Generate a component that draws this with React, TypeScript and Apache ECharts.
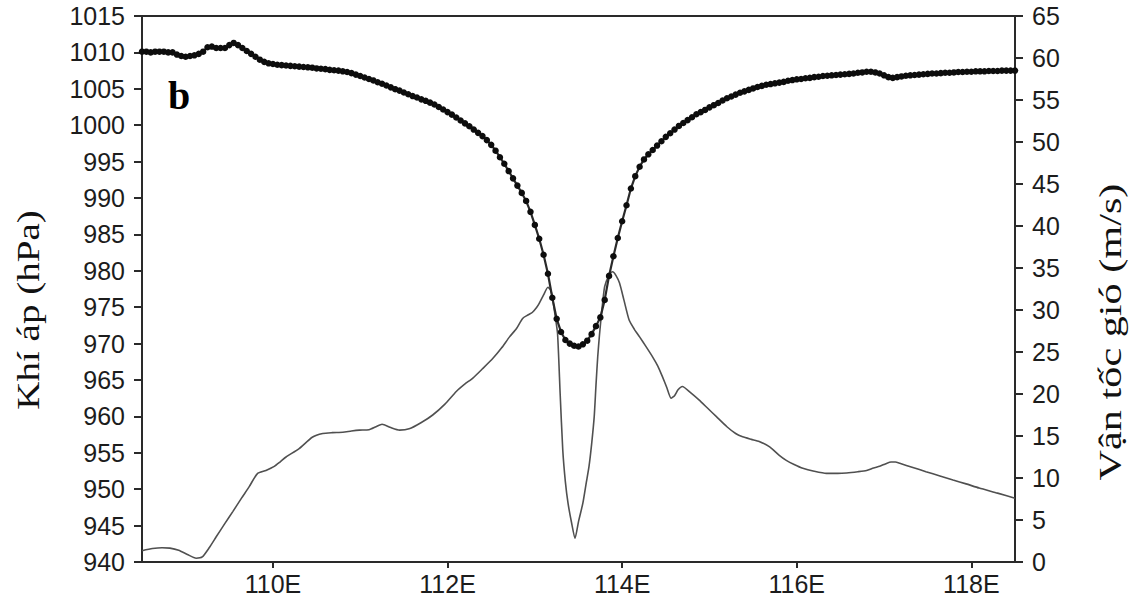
import React, { useEffect, useRef } from "react";
import * as echarts from "echarts";

// Longitude sampling of the sea-level pressure trace (degrees east)
const PRESSURE_LON_START = 108.5;
const PRESSURE_LON_STEP = 0.05;

// Sea-level pressure along the track (hPa), one value per sample
const pressure = [
  1010.1, 1010.1, 1010.0, 1010.1, 1010.1, 1010.1, 1010.0, 1010.0, 1009.7, 1009.5,
  1009.4, 1009.5, 1009.6, 1009.8, 1010.1, 1010.7, 1010.8, 1010.6, 1010.6, 1010.6,
  1011.0, 1011.3, 1011.0, 1010.6, 1010.2, 1009.8, 1009.4, 1009.0, 1008.7, 1008.5,
  1008.4, 1008.3, 1008.25, 1008.2, 1008.15, 1008.1, 1008.05, 1008.0, 1007.95, 1007.9,
  1007.8, 1007.75, 1007.7, 1007.6, 1007.55, 1007.5, 1007.4, 1007.3, 1007.15, 1006.95,
  1006.75, 1006.55, 1006.35, 1006.15, 1005.9, 1005.7, 1005.45, 1005.2, 1004.95, 1004.75,
  1004.5, 1004.25, 1004.0, 1003.8, 1003.55, 1003.35, 1003.1, 1002.85, 1002.5, 1002.15,
  1001.8, 1001.45, 1001.05, 1000.65, 1000.25, 999.85, 999.4, 998.95, 998.5, 997.95,
  997.3, 996.5, 995.6, 994.7, 993.7, 992.7, 991.7, 990.7, 989.6, 988.1,
  986.3, 984.4, 982.2, 979.6, 976.3, 973.4, 971.6, 970.5, 970.0, 969.7,
  969.6, 969.9, 970.4, 971.3, 972.4, 973.6, 976.0, 979.3, 982.0, 984.5,
  986.8, 989.0, 991.3, 993.0, 994.3, 995.3, 996.0, 996.6, 997.2, 997.8,
  998.4, 998.9, 999.4, 999.9, 1000.3, 1000.7, 1001.1, 1001.5, 1001.8, 1002.1,
  1002.45, 1002.75, 1003.05, 1003.4, 1003.7, 1003.95, 1004.2, 1004.45, 1004.65, 1004.85,
  1005.05, 1005.25, 1005.4, 1005.55, 1005.65, 1005.75, 1005.85, 1005.95, 1006.1, 1006.2,
  1006.3, 1006.35, 1006.45, 1006.5, 1006.6, 1006.65, 1006.75, 1006.8, 1006.85, 1006.9,
  1006.95, 1007.0, 1007.05, 1007.1, 1007.2, 1007.25, 1007.35, 1007.35, 1007.25, 1007.1,
  1006.85, 1006.6, 1006.5, 1006.6, 1006.7, 1006.8, 1006.85, 1006.9, 1006.95, 1007.0,
  1007.05, 1007.1, 1007.1, 1007.15, 1007.2, 1007.2, 1007.25, 1007.3, 1007.3, 1007.35,
  1007.35, 1007.4, 1007.4, 1007.4, 1007.45, 1007.45, 1007.45, 1007.5, 1007.5, 1007.5,
  1007.5,
];

// Wind speed trace (m/s): longitudes and values
const windLon = [
  108.5, 108.62, 108.73, 108.82, 108.92, 109.02, 109.12, 109.19, 109.27, 109.35,
  109.45, 109.54, 109.64, 109.73, 109.82, 109.92, 110.01, 110.08, 110.15, 110.3,
  110.45, 110.57, 110.68, 110.8, 110.9, 110.99, 111.1, 111.18, 111.25, 111.35,
  111.45, 111.56, 111.7, 111.83, 111.97, 112.1, 112.2, 112.29, 112.4, 112.52,
  112.62, 112.71, 112.79, 112.86, 112.92, 112.97, 113.02, 113.05, 113.1, 113.15,
  113.18, 113.2, 113.23, 113.26, 113.29, 113.32, 113.35, 113.38, 113.42, 113.46,
  113.5, 113.55, 113.59, 113.62, 113.65, 113.68, 113.7, 113.72, 113.74, 113.76,
  113.78, 113.8, 113.84, 113.89, 113.93, 113.97, 114.02, 114.08, 114.14, 114.2,
  114.27, 114.35, 114.41, 114.46, 114.51, 114.56, 114.6, 114.64, 114.69, 114.78,
  114.88, 114.98, 115.08, 115.2, 115.3, 115.38, 115.48, 115.57, 115.69, 115.8,
  115.88, 115.97, 116.07, 116.2, 116.34, 116.47, 116.57, 116.7, 116.8, 116.88,
  116.95, 117.02, 117.08, 117.13, 117.18, 117.33, 117.48, 117.64, 117.79, 117.94,
  118.09, 118.3, 118.5,
];
const windSpeed = [
  1.35, 1.6, 1.7, 1.65, 1.4, 0.9, 0.45, 0.6, 1.7, 3.0,
  4.6, 6.0, 7.6, 9.0, 10.5, 10.9, 11.35, 11.9, 12.5, 13.5,
  14.85, 15.3, 15.4, 15.45, 15.6, 15.7, 15.75, 16.1, 16.4, 16.0,
  15.7, 15.85, 16.6, 17.5, 18.8, 20.3, 21.2, 21.9, 23.0, 24.25,
  25.5, 26.8, 27.8, 29.0, 29.4, 29.7, 30.3, 30.8, 31.8, 32.7,
  32.4, 31.6, 29.5, 27.2, 20.0, 13.3, 9.5, 7.0, 4.7, 2.8,
  4.8, 7.0, 9.5, 11.35, 14.0, 17.3, 21.0, 24.4, 27.0, 29.2,
  31.2, 32.8, 33.9, 34.55, 34.1, 33.2, 31.2, 28.8, 27.7, 26.8,
  25.7, 24.4, 23.3, 22.1, 20.8, 19.5, 19.8, 20.5, 20.9, 20.2,
  19.3, 18.3, 17.3, 16.1, 15.3, 14.9, 14.6, 14.35, 13.7, 12.7,
  12.1, 11.6, 11.15, 10.8, 10.55, 10.55, 10.6, 10.75, 10.9, 11.2,
  11.4, 11.7, 11.9, 11.9, 11.75, 11.25, 10.75, 10.25, 9.76, 9.3,
  8.8, 8.2, 7.6,
];

// Axis ticks
const lonTicks = [110, 112, 114, 116, 118];
const LON_MIN = 108.5;
const LON_MAX = 118.5;

const SANS = "'Liberation Sans', Arial, Helvetica, sans-serif";
const SERIF = "'Liberation Serif', 'Times New Roman', serif";
const INK = "#1c1c1c";

export default function App() {
  const ref = useRef<HTMLDivElement>(null);

  useEffect(() => {
    if (!ref.current) return;
    const chart = echarts.init(ref.current, undefined, { renderer: "svg" });

    const pressureData = pressure.map((p, i) => [
      +(PRESSURE_LON_START + i * PRESSURE_LON_STEP).toFixed(2),
      p,
    ]);
    const windData = windLon.map((lon, i) => [lon, windSpeed[i]]);

    const axisLine = { show: true, lineStyle: { color: "#2a2a2a", width: 2 } };
    const labelStyle = {
      color: INK,
      fontSize: 25,
      fontFamily: SANS,
      formatter: (v: number) => String(v),
    };

    chart.setOption({
      animation: false,
      backgroundColor: "#ffffff",
      grid: {
        left: 142,
        right: 123,
        top: 16,
        bottom: 39,
        show: true,
        borderColor: "#2a2a2a",
        borderWidth: 2,
        backgroundColor: "transparent",
      },
      xAxis: {
        type: "value",
        min: LON_MIN,
        max: LON_MAX,
        axisLine,
        axisTick: {
          show: true,
          length: 6,
          customValues: lonTicks,
          lineStyle: { color: "#2a2a2a", width: 2 },
        },
        axisLabel: {
          ...labelStyle,
          margin: 9,
          customValues: lonTicks,
          formatter: (v: number) => `${v}E`,
        },
        splitLine: { show: false },
      },
      yAxis: [
        {
          type: "value",
          min: 940,
          max: 1015,
          interval: 5,
          position: "left",
          axisLine,
          axisTick: { show: true, length: 8, lineStyle: { color: "#2a2a2a", width: 2 } },
          axisLabel: { ...labelStyle, margin: 17 },
          splitLine: { show: false },
        },
        {
          type: "value",
          min: 0,
          max: 65,
          interval: 5,
          position: "right",
          axisLine,
          axisTick: { show: true, length: 8, lineStyle: { color: "#2a2a2a", width: 2 } },
          axisLabel: { ...labelStyle, margin: 17 },
          splitLine: { show: false },
        },
      ],
      series: [
        {
          name: "Vận tốc gió",
          type: "line",
          yAxisIndex: 1,
          data: windData,
          showSymbol: false,
          smooth: 0.2,
          lineStyle: { color: "#505050", width: 1.6 },
          z: 2,
        },
        {
          name: "Khí áp",
          type: "line",
          yAxisIndex: 0,
          data: pressureData,
          symbol: "circle",
          symbolSize: 6.5,
          showSymbol: true,
          showAllSymbol: true,
          itemStyle: { color: "#0d0d0d" },
          lineStyle: { color: "#2a2a2a", width: 2.2 },
          z: 3,
        },
      ],
      graphic: [
        {
          type: "text",
          x: 168,
          y: 115,
          style: {
            text: "b",
            font: `bold 40px ${SERIF}`,
            fill: "#000",
            align: "left",
            verticalAlign: "bottom",
          },
        },
        {
          type: "text",
          x: 28,
          y: 310,
          rotation: Math.PI / 2,
          scaleX: 1.22,
          style: {
            text: "Khí áp (hPa)",
            font: `32px ${SERIF}`,
            fill: "#111",
            align: "center",
            verticalAlign: "middle",
          },
        },
        {
          type: "text",
          x: 1110,
          y: 332,
          rotation: Math.PI / 2,
          scaleX: 1.32,
          style: {
            text: "Vận tốc gió (m/s)",
            font: `32px ${SERIF}`,
            fill: "#111",
            align: "center",
            verticalAlign: "middle",
          },
        },
      ],
    });

    return () => chart.dispose();
  }, []);

  return (
    <div
      ref={ref}
      style={{
        position: "fixed",
        left: 0,
        top: 0,
        width: 1138,
        height: 601,
        background: "#fff",
      }}
    />
  );
}
